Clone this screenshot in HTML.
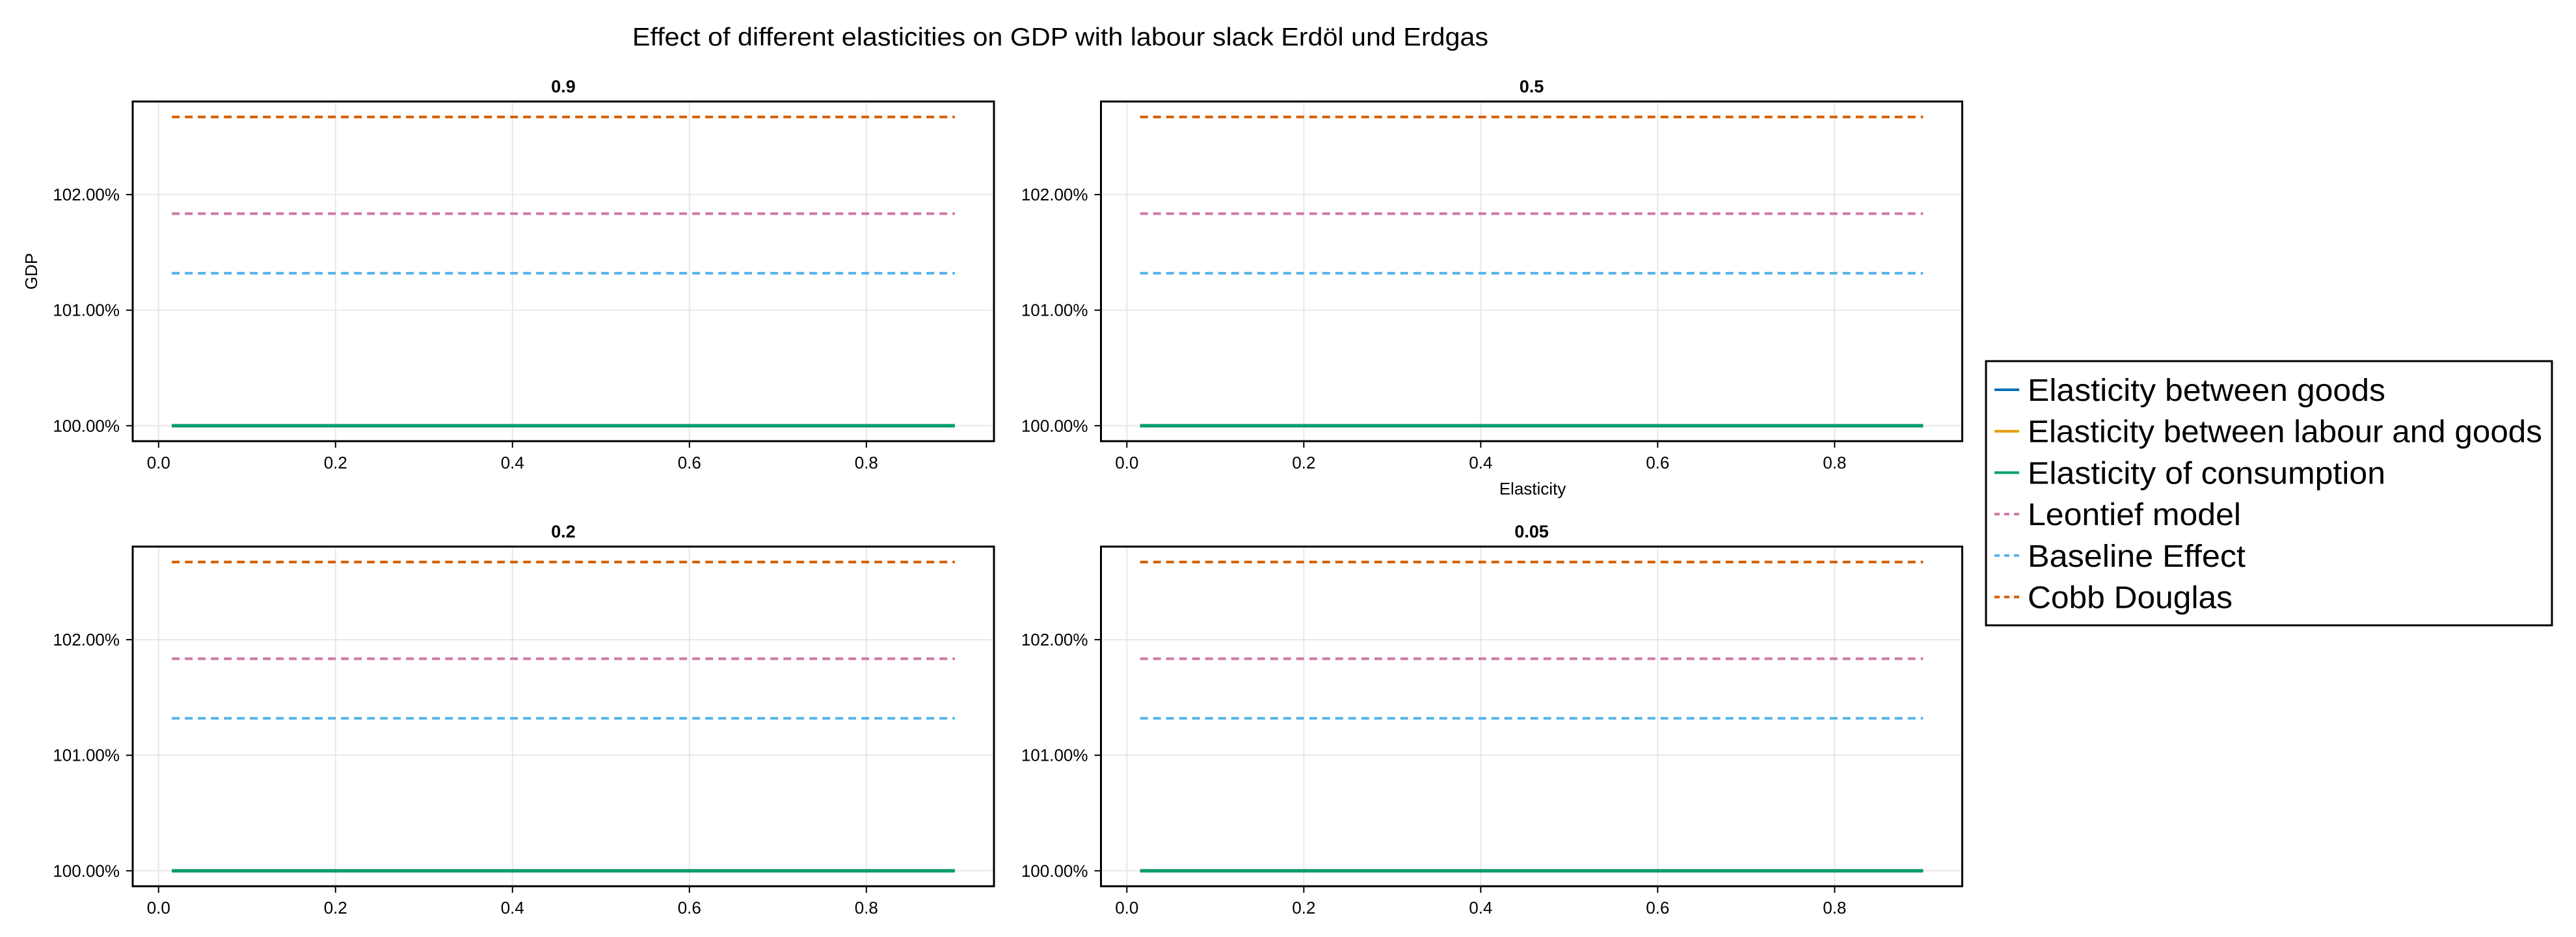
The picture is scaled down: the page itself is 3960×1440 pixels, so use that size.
<!DOCTYPE html>
<html><head><meta charset="utf-8"><style>
html,body{margin:0;padding:0;background:#fff;}
svg{display:block;font-family:"Liberation Sans",Arial,sans-serif;}
</style></head><body>
<svg id="chart" width="3960" height="1440" viewBox="0 0 3960 1440" xmlns="http://www.w3.org/2000/svg">
<rect width="3960" height="1440" fill="#fff"/>
<text x="972" y="70" font-size="39" textLength="1316" lengthAdjust="spacingAndGlyphs">Effect of different elasticities on GDP with labour slack Erdöl und Erdgas</text>
</svg>
<script>
const panelTitles = ["0.9", "0.5", "0.2", "0.05"];
const elasticities = [0.015, 0.1, 0.2, 0.3, 0.4, 0.5, 0.6, 0.7, 0.8, 0.9];
const seriesNames = ["Elasticity between goods", "Elasticity between labour and goods", "Elasticity of consumption", "Leontief model", "Baseline Effect", "Cobb Douglas"];
const goodsVals = [100, 100, 100, 100, 100, 100, 100, 100, 100, 100];
const labourGoodsVals = [100, 100, 100, 100, 100, 100, 100, 100, 100, 100];
const consumptionVals = [100, 100, 100, 100, 100, 100, 100, 100, 100, 100];
const leontiefVals = [101.835, 101.835, 101.835, 101.835, 101.835, 101.835, 101.835, 101.835, 101.835, 101.835];
const baselineVals = [101.32, 101.32, 101.32, 101.32, 101.32, 101.32, 101.32, 101.32, 101.32, 101.32];
const cobbVals = [102.672, 102.672, 102.672, 102.672, 102.672, 102.672, 102.672, 102.672, 102.672, 102.672];
const xTicks = [0.0, 0.2, 0.4, 0.6, 0.8];
const xTickLabels = ["0.0", "0.2", "0.4", "0.6", "0.8"];
const yTicks = [100, 101, 102];
const yTickLabels = ["100.00%", "101.00%", "102.00%"];

const NS = "http://www.w3.org/2000/svg";
const svg = document.getElementById("chart");
function el(tag, attrs, parent) {
  const e = document.createElementNS(NS, tag);
  for (const k in attrs) e.setAttribute(k, attrs[k]);
  (parent || svg).appendChild(e);
  return e;
}
const colors = ["#0072b2", "#e69f00", "#009e73", "#cc79a7", "#56b4e9", "#d55e00"];
const dashed = [false, false, false, true, true, true];
const allSeries = [goodsVals, labourGoodsVals, consumptionVals, leontiefVals, baselineVals, cobbVals];

const allY = allSeries.flat();
const yMin0 = Math.min(...allY), yMax0 = Math.max(...allY);
const yPad = (yMax0 - yMin0) * 0.05;
const yLo = yMin0 - yPad, yHi = yMax0 + yPad;
const xMin0 = Math.min(...elasticities), xMax0 = Math.max(...elasticities);
const xPad = (xMax0 - xMin0) * 0.05;
const xLo = xMin0 - xPad, xHi = xMax0 + xPad;

const PW = 1324, PH = 522;
const lefts = [204, 1692.5, 204, 1692.5];
const tops = [156, 156, 840, 840];

panelTitles.forEach((pt, i) => {
  const L = lefts[i], T = tops[i];
  const sx = v => L + (v - xLo) / (xHi - xLo) * PW;
  const sy = v => T + PH - (v - yLo) / (yHi - yLo) * PH;
  const g = el("g", {});
  
  
  xTicks.forEach((t, k) => {
    const gl = el("line", {x1: sx(t), x2: sx(t), y1: T, y2: T + PH, stroke: "#e8e8e8", "stroke-width": 2}, g);
    
    
    el("line", {x1: sx(t), x2: sx(t), y1: T + PH, y2: T + PH + 10, stroke: "#000", "stroke-width": 2}, g);
    const tl = el("text", {x: sx(t), y: T + PH + 42, "font-size": 26, "text-anchor": "middle"}, g);
    tl.textContent = xTickLabels[k];
    
    
  });
  yTicks.forEach((t, k) => {
    const gl = el("line", {x1: L, x2: L + PW, y1: sy(t), y2: sy(t), stroke: "#e8e8e8", "stroke-width": 2}, g);
    
    
    el("line", {x1: L - 10, x2: L, y1: sy(t), y2: sy(t), stroke: "#000", "stroke-width": 2}, g);
    const tl = el("text", {x: L - 20, y: sy(t) + 9, "font-size": 26, "text-anchor": "end"}, g);
    tl.textContent = yTickLabels[k];
    
    
  });
  allSeries.forEach((vals, s) => {
    const pts = elasticities.map((x, j) => sx(x) + "," + sy(vals[j])).join(" ");
    const attrs = {points: pts, fill: "none", stroke: colors[s], "stroke-width": dashed[s] ? 4 : 5};
    if (dashed[s]) attrs["stroke-dasharray"] = "12 8";
    const ln = el("polyline", attrs, g);
    
    
  });
  const fr = el("rect", {x: L, y: T, width: PW, height: PH, fill: "none", stroke: "#000", "stroke-width": 3}, g);
  
  
  const ttl = el("text", {x: L + PW / 2, y: T - 14, "font-size": 27, "font-weight": "bold", "text-anchor": "middle"}, g);
  ttl.textContent = pt;
  
  
});

const yl = el("text", {x: 0, y: 0, "font-size": 26, "text-anchor": "middle", transform: "translate(57,417) rotate(-90)"});
yl.textContent = "GDP";


const xl = el("text", {x: 2356, y: 760, "font-size": 26, "text-anchor": "middle"});
xl.textContent = "Elasticity";



const lg = el("g", {});


el("rect", {x: 3053, y: 555, width: 870, height: 406, fill: "#fff", stroke: "#000", "stroke-width": 3}, lg);
const widths = [550, 791, 550, 328, 335, 315];
seriesNames.forEach((n, s) => {
  const cy = 599 + s * 63.7;
  const attrs = {x1: 3066, x2: 3104, y1: cy, y2: cy, stroke: colors[s], "stroke-width": 4};
  if (dashed[s]) attrs["stroke-dasharray"] = "8 7";
  const sw = el("line", attrs, lg);
  
  
  const t = el("text", {x: 3117, y: cy + 17, "font-size": 48, textLength: widths[s], lengthAdjust: "spacingAndGlyphs"}, lg);
  t.textContent = n;
  
  
});
</script>
</body></html>
